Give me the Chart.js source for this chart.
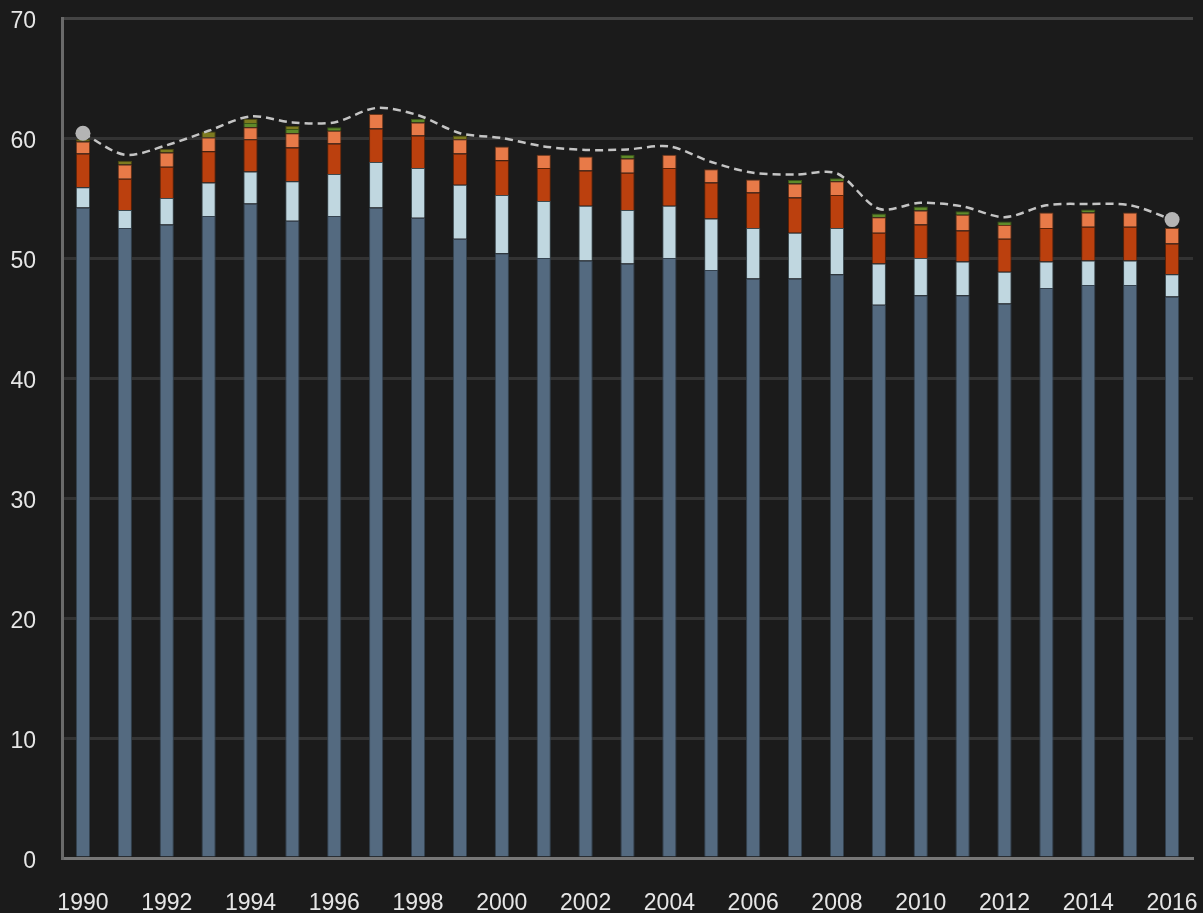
<!DOCTYPE html>
<html>
<head>
<meta charset="utf-8">
<script src="https://cdn.jsdelivr.net/npm/chart.js@4/dist/chart.umd.min.js"></script>
<style>
  html, body { margin: 0; padding: 0; background: #1b1b1b; }
  #wrap { width: 1203px; height: 913px; }
</style>
</head>
<body>
<div id="wrap"><canvas id="chart" width="1203" height="913"></canvas></div>
<script>
// values
const years = ['1990','1991','1992','1993','1994','1995','1996','1997','1998','1999',
  '2000','2001','2002','2003','2004','2005','2006','2007','2008','2009',
  '2010','2011','2012','2013','2014','2015','2016'];

const baseVals = [54.2, 52.5, 52.8, 53.5, 54.55, 53.1, 53.5, 54.2, 53.35, 51.6,
  50.4, 50.0, 49.8, 49.55, 50.0, 49.0, 48.3, 48.3, 48.65, 46.1,
  46.9, 46.9, 46.2, 47.5, 47.75, 47.75, 46.8];
const lightBlueVals = [1.7, 1.5, 2.2, 2.8, 2.65, 3.3, 3.5, 3.8, 4.15, 4.5,
  4.85, 4.75, 4.55, 4.45, 4.35, 4.3, 4.2, 3.8, 3.85, 3.45,
  3.1, 2.8, 2.65, 2.2, 2.05, 2.05, 1.85];
const darkOrangeVals = [2.8, 2.6, 2.6, 2.6, 2.7, 2.8, 2.55, 2.8, 2.7, 2.6,
  2.9, 2.75, 2.95, 3.1, 3.15, 3.0, 2.95, 2.95, 2.75, 2.55,
  2.8, 2.6, 2.75, 2.8, 2.8, 2.8, 2.55];
const lightOrangeVals = [1.0, 1.2, 1.2, 1.15, 1.0, 1.2, 1.05, 1.2, 1.1, 1.2,
  1.15, 1.1, 1.15, 1.2, 1.1, 1.1, 1.1, 1.15, 1.15, 1.3,
  1.15, 1.3, 1.15, 1.3, 1.2, 1.2, 1.3];
const greenVals = [0, 0, 0, 0, 0.35, 0.35, 0.3, 0, 0.3, 0,
  0, 0, 0, 0.3, 0, 0, 0, 0.3, 0.25, 0.3,
  0.35, 0.3, 0.3, 0, 0.25, 0, 0];
const oliveVals = [0.2, 0.3, 0.3, 0.5, 0.35, 0.25, 0, 0, 0, 0.3,
  0, 0, 0, 0, 0, 0, 0, 0, 0, 0,
  0, 0, 0, 0, 0, 0, 0];
const totalVals = [60.4, 58.6, 59.4, 60.6, 61.8, 61.3, 61.3, 62.5, 61.9, 60.4,
  60.0, 59.3, 59.0, 59.05, 59.3, 58.0, 57.1, 56.95, 57.05, 54.1,
  54.6, 54.3, 53.4, 54.4, 54.5, 54.4, 53.2];

const yTicks = [0, 10, 20, 30, 40, 50, 60, 70];

const FONT = "'Liberation Sans Narrow', 'Liberation Sans', Arial, sans-serif";

function barSet(data, fill, edge) {
  return {
    type: 'bar',
    data: data,
    backgroundColor: fill,
    borderColor: edge,
    borderWidth: 1,
    stack: 'bars',
    categoryPercentage: 1,
    barPercentage: 0.34,
    order: 2
  };
}

const last = years.length - 1;

new Chart(document.getElementById('chart'), {
  data: {
    labels: years,
    datasets: [
      barSet(baseVals, '#546a80', '#34424f'),
      barSet(lightBlueVals, '#c0d7e0', '#3c4a50'),
      barSet(darkOrangeVals, '#bb400e', '#5a2208'),
      barSet(lightOrangeVals, '#e87a48', '#6a3418'),
      barSet(greenVals, '#5f8a2a', '#3a5518'),
      barSet(oliveVals, '#7c7a1f', '#4a4812'),
      {
        type: 'line',
        data: totalVals,
        stack: 'total',
        borderColor: '#c4c4c4',
        borderWidth: 2.5,
        borderDash: [8, 5],
        tension: 0.3,
        fill: false,
        pointRadius: ctx => (ctx.dataIndex === 0 || ctx.dataIndex === last) ? 7.5 : 0,
        pointBackgroundColor: '#b4b4b4',
        pointBorderWidth: 0,
        order: 1
      }
    ]
  },
  options: {
    responsive: false,
    animation: false,
    layout: { padding: { top: 18, right: 10, left: 0, bottom: 0 } },
    plugins: {
      legend: { display: false },
      tooltip: { enabled: false }
    },
    scales: {
      x: {
        stacked: true,
        offset: true,
        grid: { display: false, drawTicks: false },
        border: { display: true, color: '#777777', width: 3 },
        ticks: {
          color: '#e6e6e6',
          font: { family: FONT, size: 23 },
          padding: 32,
          maxRotation: 0,
          autoSkip: false,
          callback: function (val, i) { return i % 2 === 0 ? years[i] : ''; }
        },
        afterFit: s => { s.height = 55; s.paddingLeft = 0; s.paddingRight = 0; }
      },
      y: {
        stacked: true,
        min: 0,
        max: 70,
        afterBuildTicks: s => { s.ticks = yTicks.map(v => ({ value: v })); },
        grid: {
          color: ctx => ctx.tick && ctx.tick.value === 70 ? '#444444' : '#333333',
          lineWidth: 3,
          drawTicks: false
        },
        border: { display: true, color: '#6a6a6a', width: 3 },
        ticks: {
          color: '#e6e6e6',
          font: { family: FONT, size: 23 },
          padding: 26,
          labelOffset: 4
        },
        afterFit: s => { s.width = 62; s.paddingTop = 0; s.paddingBottom = 0; }
      }
    }
  }
});
</script>
</body>
</html>
